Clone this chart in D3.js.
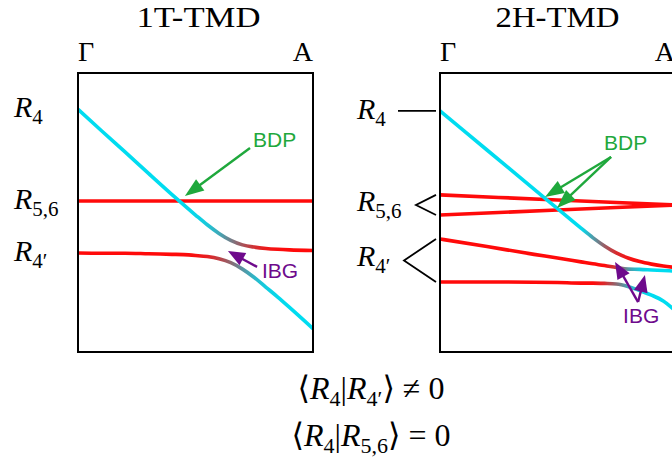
<!DOCTYPE html>
<html>
<head>
<meta charset="utf-8">
<script src="https://cdn.jsdelivr.net/npm/d3@7"></script>
<style>
  body { margin: 0; background: #fff; }
  text { font-family: "Liberation Serif", "DejaVu Serif", serif; }
  .sans { font-family: "Liberation Sans", Arial, sans-serif; }
</style>
</head>
<body>
<svg id="chart" width="672" height="458"></svg>
<script>
// ---- band data: momentum k runs from Γ (0) to A (1), energies in arbitrary units ----
const kTickValues = [0, 1];
const kTickLabels = ["Γ", "A"];
const panelTitles = ["1T-TMD", "2H-TMD"];

// 1T-TMD
const t1K = [0, 0.1, 0.2, 0.3, 0.4, 0.45, 0.5, 0.55, 0.6, 0.65, 0.7, 0.75, 0.8, 0.85, 0.9, 1.0];
const t1Upper    = [8.70, 7.93, 7.17, 6.40, 5.64, 5.27, 4.91, 4.56, 4.25, 4.00, 3.84, 3.76, 3.71, 3.68, 3.66, 3.64];
const t1UpperRed = [0, 0, 0, 0, 0, 0.01, 0.03, 0.10, 0.25, 0.45, 0.65, 0.82, 0.93, 0.98, 1, 1];
const t1Lower    = [3.55, 3.54, 3.54, 3.52, 3.50, 3.49, 3.46, 3.42, 3.34, 3.20, 2.97, 2.67, 2.32, 1.97, 1.60, 0.84];
const t1LowerRed = [1, 1, 1, 1, 1, 0.99, 0.97, 0.90, 0.75, 0.55, 0.35, 0.18, 0.07, 0.02, 0, 0];
const t1FlatK = [0, 1];
const t1R56   = [5.41, 5.41];

// 2H-TMD
const h2K = [0, 0.2, 0.4, 0.5, 0.6, 0.65, 0.7, 0.75, 0.8, 0.85, 0.9, 0.95, 1.0];
const h2Top    = [8.64, 7.24, 5.84, 5.14, 4.44, 4.10, 3.80, 3.55, 3.37, 3.24, 3.15, 3.08, 3.03];
const h2TopRed = [0, 0, 0, 0, 0, 0.3, 0.6, 0.85, 0.95, 1, 1, 1, 1];
const h2Mid    = [4.05, 3.78, 3.50, 3.37, 3.23, 3.16, 3.10, 3.03, 2.97, 2.96, 2.94, 2.92, 2.90];
const h2MidRed = [1, 1, 1, 1, 1, 1, 1, 0.75, 0.35, 0.08, 0, 0, 0];
const h2Bot    = [2.51, 2.51, 2.50, 2.49, 2.47, 2.47, 2.46, 2.44, 2.35, 2.20, 2.04, 1.83, 1.49];
const h2BotRed = [1, 1, 1, 1, 1, 1, 0.85, 0.55, 0.25, 0.08, 0, 0, 0];
const h2PairK = [0, 0.5, 1];
const h2R56a  = [5.63, 5.45, 5.27];
const h2R56b  = [4.91, 5.09, 5.27];

// ---- drawing ----
const W = 672, H = 458;
const CYAN = "#00dcf0", RED = "#ff0a0a", GREEN = "#1fa83c", PURPLE = "#6e0a8c";
const mix = d3.interpolateRgb(CYAN, RED);

const svg = d3.select("#chart");
svg.append("rect").attr("width", W).attr("height", H).attr("fill", "#fff");
const defs = svg.append("defs");

const yScale = d3.scaleLinear().domain([0, 10]).range([352, 73]);
const PANEL_W = 235;

function makePanel(x0, id, title) {
  const x = d3.scaleLinear().domain([0, 1]).range([x0, x0 + PANEL_W]);
  const g = svg.append("g");
  defs.append("clipPath").attr("id", "clip-" + id)
    .append("rect")
    .attr("x", x(0)).attr("y", yScale(10))
    .attr("width", x(1) - x(0)).attr("height", yScale(0) - yScale(10));
  const plot = g.append("g").attr("clip-path", `url(#clip-${id})`);

  // title
  g.append("text")
    .attr("x", (x(0) + x(1)) / 2 + (id === "t1" ? 3 : 0)).attr("y", 27)
    .attr("text-anchor", "middle").attr("font-size", 30)
    .attr("textLength", 124).attr("lengthAdjust", "spacingAndGlyphs")
    .text(title);

  // Γ / A labels along the top of the box
  kTickValues.forEach((kv, i) => {
    g.append("text")
      .attr("x", x(kv)).attr("y", 61)
      .attr("text-anchor", kv === 0 ? "start" : "end")
      .attr("font-size", 28)
      .text(kTickLabels[i]);
  });
  return { x, g, plot, id };
}

function drawBand(p, name, k, e, red, color) {
  const pts = k.map((kk, i) => ({ k: kk, e: e[i] }));
  const line = d3.line().x(d => p.x(d.k)).y(d => yScale(d.e)).curve(d3.curveMonotoneX);
  let stroke = color;
  if (red) {
    const gid = `grad-${p.id}-${name}`;
    const grad = defs.append("linearGradient").attr("id", gid)
      .attr("gradientUnits", "userSpaceOnUse")
      .attr("x1", p.x(0)).attr("x2", p.x(1)).attr("y1", 0).attr("y2", 0);
    k.forEach((kk, i) => grad.append("stop").attr("offset", kk).attr("stop-color", mix(red[i])));
    stroke = `url(#${gid})`;
  }
  p.plot.append("path").datum(pts)
    .attr("d", line).attr("fill", "none")
    .attr("stroke", stroke).attr("stroke-width", 3.6)
    .attr("stroke-linecap", "round");
}

function drawFrame(p) {
  p.g.append("rect")
    .attr("x", p.x(0)).attr("y", yScale(10))
    .attr("width", p.x(1) - p.x(0)).attr("height", yScale(0) - yScale(10))
    .attr("fill", "none").attr("stroke", "#000").attr("stroke-width", 2);
}

// math text from parts: {t, it (italic), sub (subscript)}
function mathText(sel, parts, size) {
  const shift = Math.round(size * 0.22);
  let low = false;
  parts.forEach(pt => {
    const ts = sel.append("tspan").text(pt.t);
    if (pt.it) ts.attr("font-style", "italic");
    if (pt.sub) {
      ts.attr("font-size", Math.round(size * 0.7));
      if (!low) { ts.attr("dy", shift); low = true; }
    } else if (low) {
      ts.attr("dy", -shift); low = false;
    }
  });
}
const LABEL_SIZE = 30;
function levelLabel(x, y, sub) {
  const t = svg.append("text").attr("x", x).attr("y", y + 8).attr("font-size", LABEL_SIZE);
  mathText(t, [{ t: "R", it: true }, { t: sub, sub: true }], LABEL_SIZE);
}

function arrow(p, from, to, color, head = 19, half = 7) {
  const x1 = p.x(from[0]), y1 = yScale(from[1]);
  const x2 = p.x(to[0]), y2 = yScale(to[1]);
  const dx = x2 - x1, dy = y2 - y1, L = Math.hypot(dx, dy);
  const ux = dx / L, uy = dy / L;
  const bx = x2 - ux * head, by = y2 - uy * head;
  p.g.append("line").attr("x1", x1).attr("y1", y1).attr("x2", bx + ux * 2).attr("y2", by + uy * 2)
    .attr("stroke", color).attr("stroke-width", 2.4);
  p.g.append("path")
    .attr("d", `M${x2},${y2}L${bx - uy * half},${by + ux * half}L${bx + uy * half},${by - ux * half}Z`)
    .attr("fill", color);
}
function note(p, at, txt, color) {
  p.g.append("text").attr("class", "sans")
    .attr("x", p.x(at[0])).attr("y", yScale(at[1]))
    .attr("font-size", 21).attr("fill", color).text(txt);
}

// ---- 1T panel ----
const pA = makePanel(78, "t1", panelTitles[0]);
drawBand(pA, "r56", t1FlatK, t1R56, null, RED);
drawBand(pA, "lower", t1K, t1Lower, t1LowerRed);
drawBand(pA, "upper", t1K, t1Upper, t1UpperRed);
drawFrame(pA);

levelLabel(14, yScale(t1Upper[0]), "4");
levelLabel(14, yScale(t1R56[0]), "5,6");
levelLabel(14, yScale(t1Lower[0]), "4\u2032");

arrow(pA, [0.732, 7.31], [0.455, 5.59], GREEN);
note(pA, [0.745, 7.35], "BDP", GREEN);
arrow(pA, [0.762, 3.05], [0.638, 3.62], PURPLE, 17, 7);
note(pA, [0.783, 2.65], "IBG", PURPLE);

// ---- 2H panel ----
const pB = makePanel(440, "h2", panelTitles[1]);
drawBand(pB, "r56a", h2PairK, h2R56a, null, RED);
drawBand(pB, "r56b", h2PairK, h2R56b, null, RED);
drawBand(pB, "bot", h2K, h2Bot, h2BotRed);
drawBand(pB, "mid", h2K, h2Mid, h2MidRed);
drawBand(pB, "top", h2K, h2Top, h2TopRed);
drawFrame(pB);

// left-side level markers: a dash for R4, brackets for the split pairs
const gx = pB.x(0) - 4;
svg.append("line").attr("x1", 398).attr("x2", gx)
  .attr("y1", yScale(h2Top[0])).attr("y2", yScale(h2Top[0]))
  .attr("stroke", "#000").attr("stroke-width", 1.8);
function bracket(vx, eA, eB) {
  const yA = yScale(eA), yB = yScale(eB);
  svg.append("path")
    .attr("d", `M${gx},${yA}L${vx},${(yA + yB) / 2}L${gx},${yB}`)
    .attr("fill", "none").attr("stroke", "#000").attr("stroke-width", 1.8);
}
bracket(416, h2R56a[0], h2R56b[0]);
bracket(404, h2Mid[0], h2Bot[0]);

levelLabel(357, yScale(h2Top[0]), "4");
levelLabel(357, (yScale(h2R56a[0]) + yScale(h2R56b[0])) / 2 - 2, "5,6");
levelLabel(357, (yScale(h2Mid[0]) + yScale(h2Bot[0])) / 2 - 2, "4\u2032");

arrow(pB, [0.728, 6.99], [0.447, 5.56], GREEN);
arrow(pB, [0.728, 6.99], [0.498, 5.16], GREEN);
note(pB, [0.698, 7.24], "BDP", GREEN);
arrow(pB, [0.843, 1.79], [0.745, 3.23], PURPLE, 17, 7);
arrow(pB, [0.843, 1.79], [0.872, 2.76], PURPLE, 17, 7);
note(pB, [0.779, 1.04], "IBG", PURPLE);

// ---- overlap relations underneath ----
const EQ_SIZE = 32;
function relation(y, sub2, rhs) {
  const t = svg.append("text").attr("x", 371).attr("y", y)
    .attr("text-anchor", "middle").attr("font-size", EQ_SIZE);
  mathText(t, [
    { t: "\u27E8" }, { t: "R", it: true }, { t: "4", sub: true },
    { t: "|" }, { t: "R", it: true }, { t: sub2, sub: true },
    { t: "\u27E9\u2005" + rhs.replace(" ", "\u2005") }
  ], EQ_SIZE);
}
relation(399, "4\u2032", "\u2260 0");
relation(446, "5,6", "= 0");
</script>
</body>
</html>
